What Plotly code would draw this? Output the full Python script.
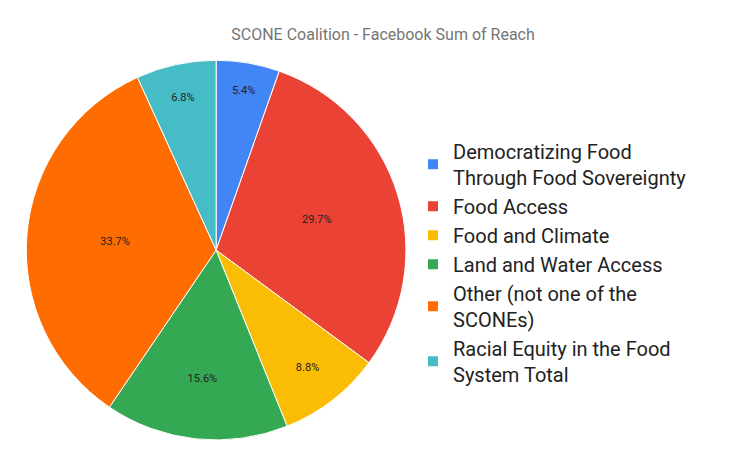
import plotly.graph_objects as go

labels = ["Democratizing Food<br>Through Food Sovereignty", "Food Access", "Food and Climate",
          "Land and Water Access", "Other (not one of the<br>SCONEs)",
          "Racial Equity in the Food<br>System Total"]
values = [5.4, 29.7, 8.8, 15.6, 33.7, 6.8]
colors = ["#4285F4", "#EA4335", "#FBBC04", "#34A853", "#FF6D01", "#46BDC6"]

fig = go.Figure(go.Pie(
    labels=labels, values=values, sort=False, direction="clockwise", rotation=0,
    marker=dict(colors=colors, line=dict(color="white", width=1)),
    textinfo="percent", texttemplate="%{percent:.1%}", textposition="inside",
    insidetextorientation="horizontal",
    textfont=dict(color="#222222", size=11, family="Roboto"),
    domain=dict(x=[0.024, 0.531], y=[0.067, 0.887]),
))
fig.update_layout(
    width=750, height=463, margin=dict(l=0, r=0, t=0, b=0),
    paper_bgcolor="white", font=dict(family="Roboto"),
    title=dict(text="SCONE Coalition - Facebook Sum of Reach", x=0.5, y=0.955,
               xanchor="center", font=dict(size=16, color="#757575")),
    legend=dict(x=0.54, y=0.45, yanchor="middle", font=dict(size=20, color="#222222"),
                itemsizing="constant"),
)
fig.write_html("out.html")
